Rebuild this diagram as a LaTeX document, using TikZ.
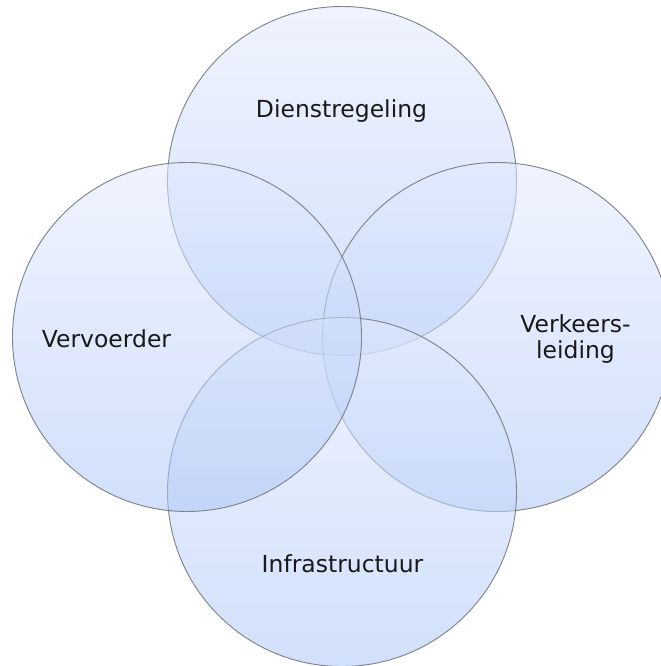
\documentclass[tikz,border=0pt]{standalone}
\usepackage{fontspec}
\setmainfont{DejaVu Sans}
\usetikzlibrary{positioning}
\definecolor{ringtop}{RGB}{226,234,253}
\definecolor{ringbot}{RGB}{172,198,247}
\definecolor{ringline}{RGB}{128,132,142}
\tikzset{
  ring/.style={circle, minimum size=261.75pt, inner sep=0pt, draw=ringline,
    line width=0.7pt, top color=ringtop, bottom color=ringbot, fill opacity=0.55},
  lbl/.style={font=\fontsize{17.6}{19.5}\selectfont, text=black!90, align=center}
}

\begin{document}
\begin{tikzpicture}[x=0.75pt,y=-0.75pt]

    \useasboundingbox (0,0) rectangle (660,666);

    \draw(342,181) node[ring] (dienst) {};
    \draw(497,337) node[ring] (verkeer) {};
    \draw(342,492) node[ring] (infra) {};
    \draw(187,337) node[ring] (vervoer) {};

    \draw(341.5,118) node[lbl, anchor=base] (tdienst) {Dienstregeling};
    \draw(106.5,347) node[lbl, anchor=base] (tvervoer) {Vervoerder};
    \draw(575.5,339) node[lbl] (tverkeer) {Verkeers-\\leiding};
    \draw(342.5,572) node[lbl, anchor=base] (tinfra) {Infrastructuur};

\end{tikzpicture}
\end{document}
